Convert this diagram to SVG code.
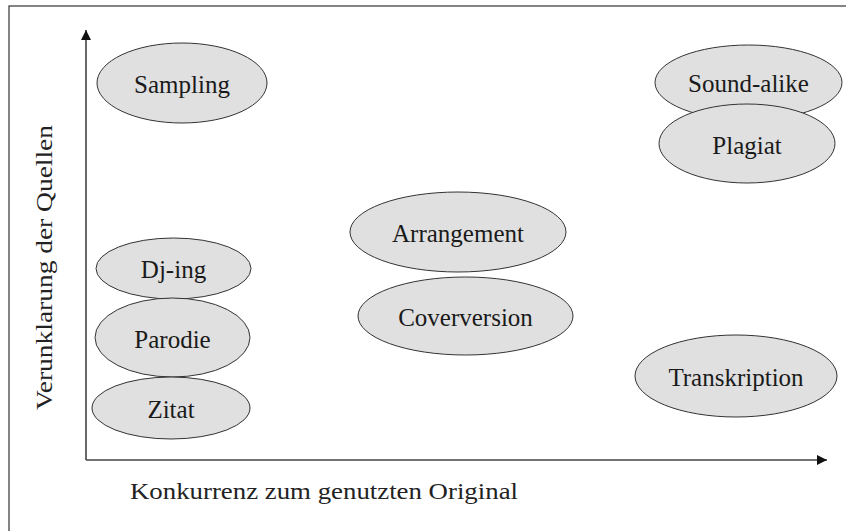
<svg xmlns="http://www.w3.org/2000/svg" width="846" height="531" viewBox="0 0 846 531">
<defs>
<style>
.node ellipse{fill:#e0e0e0;stroke:#333;stroke-width:1}
.node text{font-family:'Liberation Serif','Times New Roman',Tinos,serif;font-size:25px;fill:#1a1a1a;text-anchor:middle}
.axis{stroke:#444;stroke-width:1.6;fill:none}
.lbl{font-family:'Liberation Serif','Times New Roman',Tinos,serif;font-size:23px;fill:#222}
</style>
<marker id="ah" viewBox="0 0 10 10" refX="10" refY="5" markerWidth="10" markerHeight="10" markerUnits="userSpaceOnUse" orient="auto">
<path d="M0,0 L10,5 L0,10 z" fill="#111"/>
</marker>
</defs>
<rect x="0" y="0" width="846" height="531" fill="#fff"/>
<rect x="9" y="6" width="850" height="540" fill="none" stroke="#333" stroke-width="1.2"/>
<g id="connectors">
<line class="axis" x1="86" y1="460" x2="86" y2="30" marker-end="url(#ah)"/>
<line class="axis" x1="86" y1="460" x2="827" y2="460" marker-end="url(#ah)"/>
</g>
<text class="lbl" x="130" y="499" textLength="388" lengthAdjust="spacingAndGlyphs">Konkurrenz zum genutzten Original</text>
<text class="lbl" transform="translate(52,410) rotate(-90)" x="0" y="0" textLength="285" lengthAdjust="spacingAndGlyphs">Verunklarung der Quellen</text>
<g id="sampling" class="node"><ellipse cx="182" cy="83" rx="85" ry="40"/><text x="182" y="93">Sampling</text></g>
<g id="sound-alike" class="node"><ellipse cx="748.5" cy="82.5" rx="93.5" ry="37.5"/><text x="748.5" y="92">Sound-alike</text></g>
<g id="plagiat" class="node"><ellipse cx="747" cy="143.5" rx="88" ry="39.5"/><text x="747" y="154">Plagiat</text></g>
<g id="arrangement" class="node"><ellipse cx="458" cy="232" rx="108" ry="40"/><text x="458" y="242">Arrangement</text></g>
<g id="coverversion" class="node"><ellipse cx="465.5" cy="316" rx="107.5" ry="39"/><text x="465.5" y="326">Coverversion</text></g>
<g id="dj-ing" class="node"><ellipse cx="173.5" cy="268.5" rx="77.5" ry="30.5"/><text x="173.5" y="278">Dj-ing</text></g>
<g id="parodie" class="node"><ellipse cx="172.5" cy="337.5" rx="77.5" ry="39.5"/><text x="172.5" y="348">Parodie</text></g>
<g id="zitat" class="node"><ellipse cx="171" cy="408" rx="79" ry="31"/><text x="171" y="418">Zitat</text></g>
<g id="transkription" class="node"><ellipse cx="736" cy="376" rx="101" ry="41"/><text x="736" y="386">Transkription</text></g>
</svg>
